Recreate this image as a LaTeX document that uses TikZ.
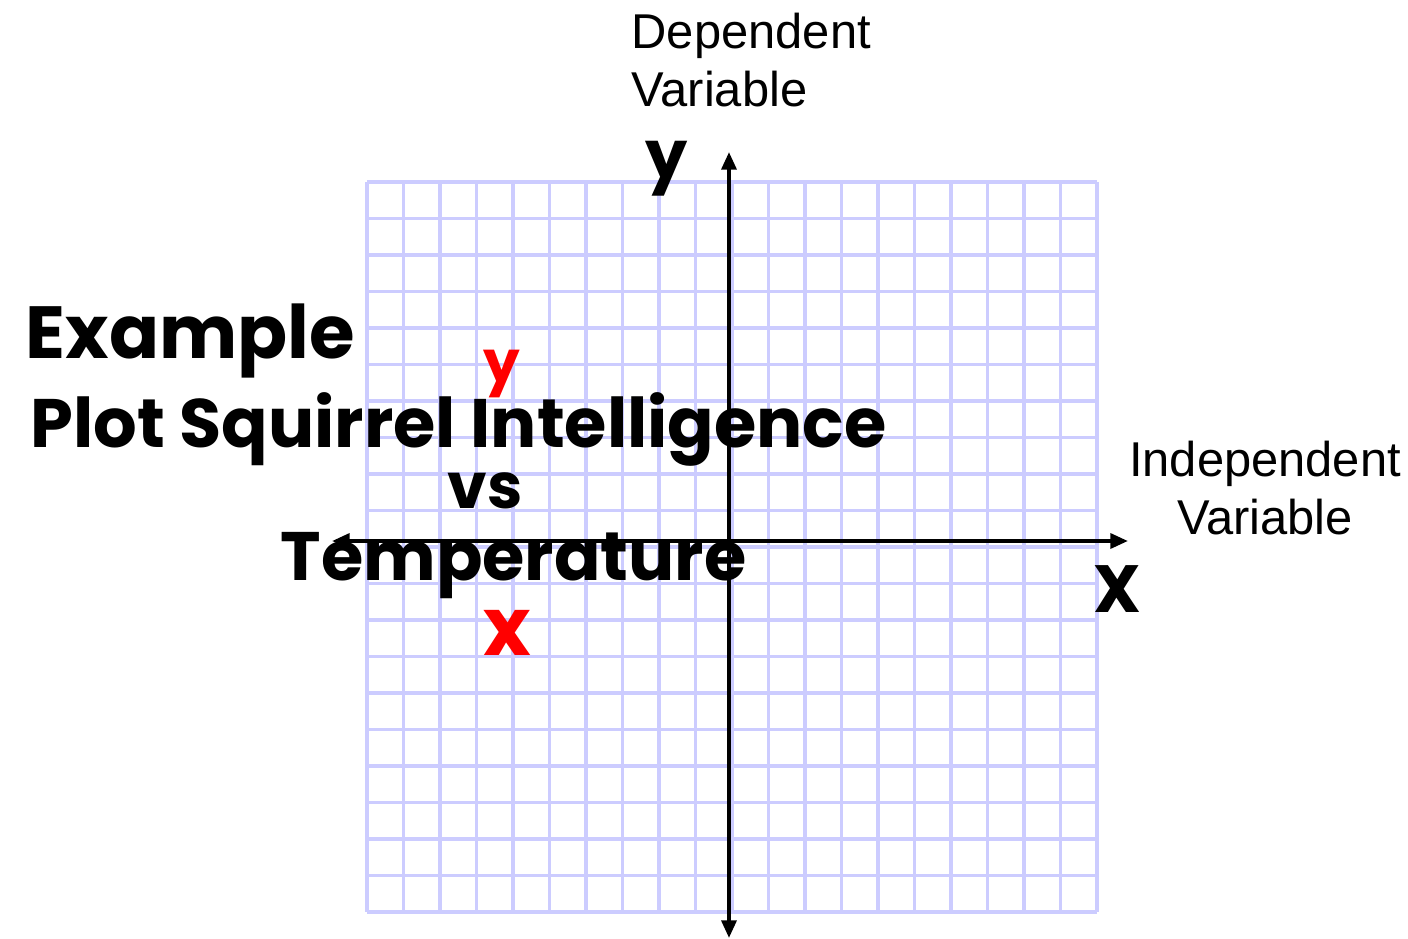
\documentclass[tikz,border=0pt]{standalone}
\usepackage{fontspec}
\setmainfont{Liberation Sans}
\newfontfamily\handfont{Poppins}
\usetikzlibrary{arrows.meta}
\definecolor{gridblue}{RGB}{204,204,255}
\definecolor{inkred}{RGB}{255,0,0}
\tikzset{
  gridline/.style={gridblue, line width=1.1pt},
  axis/.style={line width=1.1pt, {Triangle[length=5pt,width=4.2pt]}-{Triangle[length=5pt,width=4.2pt]}},
  label/.style={font=\fontsize{13.9}{16.5}\selectfont, inner sep=0pt},
  hand/.style={font=\handfont\bfseries\fontsize{#1}{#1}\selectfont, inner sep=0pt, anchor=base west},
}
\begin{document}
\begin{tikzpicture}[x=0.01cm, y=-0.01cm]
\useasboundingbox (0,0) rectangle (1408,939);
% graph paper
\foreach \i in {0,...,20} {
  \draw[gridline] (367+36.5*\i,182) -- (367+36.5*\i,912);
  \draw[gridline] (367,182+36.5*\i) -- (1097,182+36.5*\i);
}
% axes
\coordinate (xleft) at (332,541); \coordinate (xright) at (1128,541);
\coordinate (ytop) at (729,152); \coordinate (ybottom) at (729,938);
\draw[axis] (xleft) -- (xright);
\draw[axis] (ytop) -- (ybottom);
\node[label, align=left, anchor=north west] (dep) at (631,12) {Dependent\\Variable};
\node[label, align=center, anchor=north] (indep) at (1265,440) {Independent\\Variable};
\node[hand=19] (yname) at (645,178) {y};
\node[hand=19] (xname) at (1093,612) {X};
% handwritten example
\node[hand=21] (example) at (25,358) {Example};
\node[hand=19.5] (plot) at (30,447) {Plot Squirrel Intelligence};
\node[hand=18] (vs) at (447,508) {vs};
\node[hand=19.5] (temp) at (280,580) {Temperature};
\node[hand=16.5, text=inkred] (redy) at (483,382) {y};
\node[hand=23, text=inkred] (redx) at (483,655) {x};
\end{tikzpicture}
\end{document}
